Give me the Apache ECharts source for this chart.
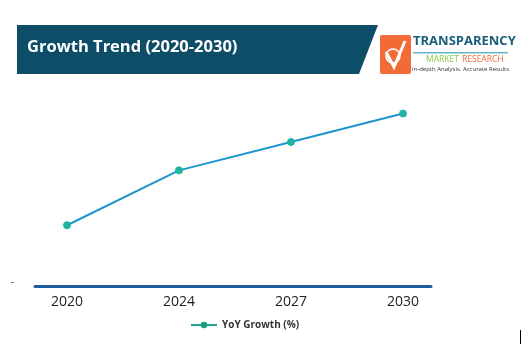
<!DOCTYPE html>
<html>
<head>
<meta charset="utf-8">
<script src="https://cdn.jsdelivr.net/npm/echarts@6/dist/echarts.min.js"></script>
<style>html,body{margin:0;padding:0;background:#fff}#c{width:529px;height:361px}</style>
</head>
<body>
<div id="c"></div>
<script>
var categories = ['2020', '2024', '2027', '2030'];
var yoyGrowth = [3.1, 5.9, 7.35, 8.8];
var seriesName = 'YoY Growth (%)';
var titleText = 'Growth Trend (2020-2030)';

var chart = echarts.init(document.getElementById('c'), null, {renderer: 'canvas'});
var option = {
  animation: false,
  backgroundColor: '#ffffff',
  grid: [
    {left: 67, right: 126, top: 90, bottom: 75},
    {left: 35, right: 98, top: 90, bottom: 75}
  ],
  xAxis: [
    {
      type: 'category', gridIndex: 0, data: categories, boundaryGap: false,
      axisLine: {show: false}, axisTick: {show: false}, splitLine: {show: false},
      axisLabel: {color: '#222', fontSize: 14, fontFamily: 'Open Sans', margin: 9}
    },
    {
      type: 'category', gridIndex: 1, data: categories, boundaryGap: false,
      axisLine: {show: true, lineStyle: {color: '#1f5c9e', width: 3}},
      axisTick: {show: false}, axisLabel: {show: false}, splitLine: {show: false}
    }
  ],
  yAxis: [
    {type: 'value', gridIndex: 0, min: 0, max: 10, show: false},
    {type: 'value', gridIndex: 1, min: 0, max: 10, show: false}
  ],
  legend: {
    bottom: 26, left: 185,
    itemWidth: 26, itemHeight: 8, itemGap: 10,
    lineStyle: {color: '#1fa58f'},
    itemStyle: {color: '#14a07a'},
    textStyle: {color: '#333', fontSize: 10, fontWeight: 'bold', fontFamily: 'Open Sans'},
    data: [seriesName]
  },
  series: [{
    name: seriesName, type: 'line', xAxisIndex: 0, yAxisIndex: 0,
    data: yoyGrowth, symbol: 'circle', symbolSize: 7,
    lineStyle: {color: '#1f95cf', width: 2},
    itemStyle: {color: '#1fb5a0', borderColor: '#1fb5a0'}
  }],
  graphic: [
    {type: 'polygon', shape: {points: [[17, 25], [378, 25], [359, 74], [17, 74]]}, style: {fill: '#0e4d68'}},
    {type: 'text', left: 27, top: 39, style: {text: titleText, fill: '#ffffff', font: 'bold 16.5px "Open Sans"'}},
    {type: 'rect', shape: {x: 380, y: 35, width: 31, height: 39, r: 2}, style: {fill: '#f26a35'}},
    {type: 'polyline', shape: {points: [[386, 52], [394, 67], [405, 41]]}, style: {stroke: '#ffffff', lineWidth: 3, fill: null}},
    {type: 'circle', shape: {cx: 393, cy: 56, r: 7}, style: {stroke: '#ffffff', lineWidth: 1.5, fill: null}},
    {type: 'text', left: 413, top: 35, style: {text: 'TRANSPARENCY', fill: '#1a5d7a', font: 'bold 13px "Liberation Sans Narrow", "Open Sans"'}},
    {type: 'rect', shape: {x: 413, y: 52, width: 95, height: 1.5}, style: {fill: '#5fb7c9'}},
    {type: 'text', left: 426, top: 55, style: {text: 'MARKET', fill: '#8dc63f', font: '8.5px "Open Sans"'}},
    {type: 'text', left: 462, top: 55, style: {text: 'RESEARCH', fill: '#f26a35', font: '8.5px "Open Sans"'}},
    {type: 'text', left: 412, top: 66, style: {text: 'in-depth Analysis. Accurate Results', fill: '#333', font: '6px "Open Sans"'}},
    {type: 'rect', shape: {x: 11, y: 282, width: 3, height: 1}, style: {fill: '#777'}},
    {type: 'rect', shape: {x: 520, y: 330, width: 1, height: 14}, style: {fill: '#000'}}
  ]
};
chart.setOption(option);
</script>
</body>
</html>
